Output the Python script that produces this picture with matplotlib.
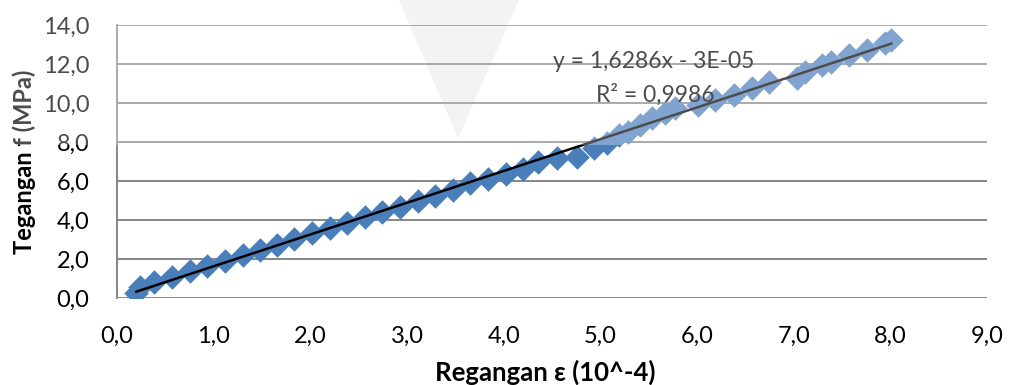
import matplotlib
matplotlib.use("Agg")
import matplotlib.pyplot as plt
import numpy as np
from matplotlib.ticker import FuncFormatter, MultipleLocator
from matplotlib.patches import Rectangle, Polygon

plt.rcParams['font.family'] = ['Lato', 'DejaVu Sans']

# strain (10^-4) and stress (MPa)
regangan = [0.20, 0.24, 0.38, 0.57, 0.75, 0.93, 1.12, 1.30, 1.48, 1.65, 1.83, 2.02,
            2.20, 2.38, 2.57, 2.74, 2.93, 3.11, 3.29, 3.48, 3.65, 3.84, 4.02, 4.20,
            4.36, 4.55, 4.76, 4.93, 5.07, 5.19, 5.29, 5.41, 5.53, 5.67, 5.77, 6.01,
            6.19, 6.38, 6.57, 6.74, 7.03, 7.12, 7.29, 7.39, 7.57, 7.76, 7.94, 8.01]
tegangan = [0.25, 0.55, 0.84, 1.09, 1.38, 1.64, 1.90, 2.21, 2.46, 2.72, 3.01, 3.32,
            3.57, 3.83, 4.14, 4.39, 4.68, 4.99, 5.23, 5.54, 5.88, 6.09, 6.36, 6.62,
            6.99, 7.20, 7.25, 7.68, 7.94, 8.36, 8.53, 8.87, 9.21, 9.50, 9.75, 9.90,
            10.15, 10.41, 10.76, 11.09, 11.27, 11.61, 11.95, 12.12, 12.46, 12.72, 13.06, 13.23]

# linear trendline as printed on the chart
slope = 1.6286
intercept = -3e-05
eq_text = "y = 1,6286x - 3E-05"
r2_text = "R² = 0,9986"

W, H = 1009, 385
fig = plt.figure(figsize=(W / 100, H / 100), dpi=100)
ax = fig.add_axes([117 / W, 1 - 298 / H, (987 - 117) / W, (298 - 25) / H])
ax.set_facecolor('none')

ax.scatter(regangan, tegangan, marker='D', s=12.5 ** 2, color='#4A7EBB', zorder=3, linewidths=0)
xs = np.array([min(regangan), max(regangan)])
ax.plot(xs, slope * xs + intercept, color='black', lw=1.8, zorder=4)

ax.set_xlim(0, 9)
ax.set_ylim(0, 14)
ax.xaxis.set_major_locator(MultipleLocator(1))
ax.yaxis.set_major_locator(MultipleLocator(2))
fmt = FuncFormatter(lambda v, p: f"{v:.1f}".replace('.', ','))
ax.xaxis.set_major_formatter(fmt)
ax.yaxis.set_major_formatter(fmt)
ax.tick_params(length=0, labelsize=17, colors='black')
ax.tick_params(axis='x', pad=20)
ax.tick_params(axis='y', pad=20)

ax.grid(axis='y', color='#868686', lw=1.4)
ax.set_axisbelow(True)
for s in ['top', 'right', 'bottom']:
    ax.spines[s].set_visible(False)
ax.spines['left'].set_color('#868686')
ax.spines['left'].set_linewidth(1.4)

# axis titles
fig.text(545 / W, 1 - 372 / H, 'Regangan ε (10^-4)', fontsize=18.5, fontweight='bold',
         ha='center', va='center')
fig.text(24 / W, 1 - 162 / H, 'Tegangan f (MPa)', fontsize=17, fontweight='bold',
         ha='center', va='center', rotation=90)

fig.text(553 / W, 1 - 62 / H, eq_text, fontsize=16.5, color='black', va='center', ha='left')
fig.text(596 / W, 1 - 95 / H, r2_text, fontsize=16.5, color='black', va='center', ha='left')

# faint watermark triangle behind the plot
tri = Polygon([(400 / W, 1.0), (518 / W, 1.0), (458 / W, 1 - 137 / H)],
              closed=True, transform=fig.transFigure, color='#efefef', zorder=-1)
fig.add_artist(tri)
# washed-out band across the top
band = Rectangle((0, 1 - 145 / H), 1, 145 / H, transform=fig.transFigure,
                 color='white', alpha=0.3, zorder=100, lw=0)
fig.add_artist(band)

fig.savefig('out.png', dpi=100)
